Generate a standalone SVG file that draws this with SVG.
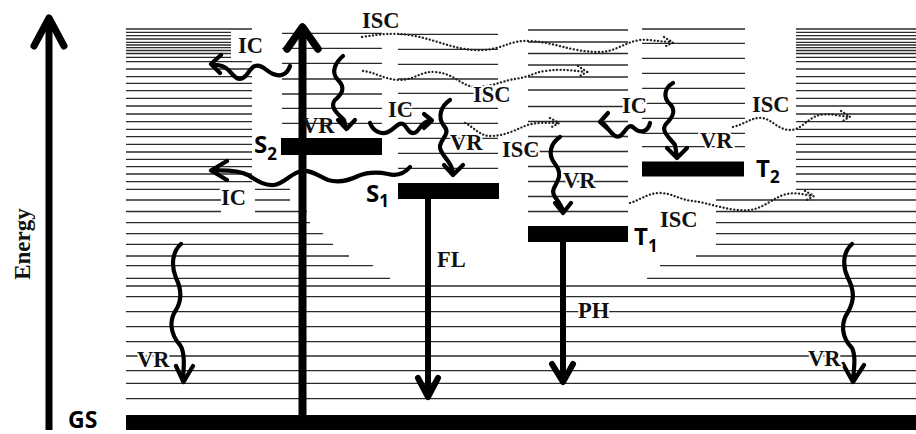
<svg xmlns="http://www.w3.org/2000/svg" width="916" height="434" viewBox="0 0 916 434">
<style>
.lv{stroke:#2b2b2b;stroke-width:1.3;fill:none}
.w{stroke:#000;stroke-width:4.2;fill:none;stroke-linecap:round;stroke-linejoin:round}
.d{stroke:#222;stroke-width:2.3;fill:none;stroke-dasharray:0.1 3.5;stroke-linecap:round}
.big{stroke:#000;fill:none;stroke-linecap:round;stroke-linejoin:round}
.sh{stroke:#000;fill:none;stroke-linecap:butt}
.lb{font-family:"Liberation Serif","Times New Roman",serif;font-weight:bold;font-size:22.5px;fill:#111;paint-order:stroke;stroke:#fff;stroke-width:4px;stroke-linejoin:round}
.nh{stroke:none}
.st{font-family:"Open Sans","Liberation Sans",sans-serif;font-weight:bold;font-size:24px;fill:#000}
.sub{font-size:17px}
</style>
<rect width="916" height="434" fill="#fff"/>
<g id="levels">
<path class="lv" d="M126 29H252M126 32.3H231M126 35.7H231M126 39H231M126 42.3H231M126 45H231M126 47.7H231M126 50.5H231M126 53.5H231M126 57.3H231M126 61.7H252M126 69H252M126 76.7H252M126 83.3H252M126 90.7H252M126 98.3H252M126 106H252M126 114H252M126 121.7H252M126 129.3H252M126 136.7H252M126 144.3H252M126 152H252M126 159.3H252M126 166.7H252M126 174H252M126 181.7H252M126 189.3H221M255 189.3H290M126 200H221M255 200H290M126 211.5H221M255 211.5H307M126 222.7H310M126 233.7H323M126 244.3H333M126 256H349M126 265.7H373M126 278.3H390"/>
<path class="lv" d="M796 29H916M796 32.3H916M796 35.7H916M796 39H916M796 42.3H916M796 45H916M796 47.7H916M796 50.5H916M796 53.5H916M796 57.3H916M796 61.7H916M796 69H916M796 76.7H916M796 83.3H916M796 90.7H916M796 98.3H916M796 106H916M796 114H916M796 121.7H916M796 129.3H916M796 136.7H916M796 144.3H916M796 152H916M796 159.3H916M796 166.7H916M796 174H916M796 181.7H916M796 189.3H916M716 200H916M716 211.5H916M716 222.7H916M716 233.7H916M716 244.3H916M696 256H916M660 265.7H916M647 278.3H916"/>
<path class="lv" d="M282 33.3H382M282 48.3H382M282 63.3H382M282 79H382M282 94H382M282 108.3H382M282 123.3H382"/>
<path class="lv" d="M398 34.3H498M398 49.3H498M398 64.3H498M398 79H498M398 93.3H498M398 108.3H498M398 123.3H498M398 138.3H498M398 153.3H498M398 168.3H498"/>
<path class="lv" d="M528 30H628M528 42H628M528 53.5H628M528 65H628M528 77H628M528 90H628M528 106.5H628M528 121.5H628M528 136.5H628M528 151.5H628M528 166.5H628M528 181.5H628M528 196.5H628M528 211.5H628"/>
<path class="lv" d="M642 29H745M642 43.3H745M642 58.3H745M642 73.3H745M642 88.3H745M642 103.3H745M642 118.3H745M642 133.3H745M642 146.7H745"/>
<path class="lv" d="M126 286H916M126 296.7H916M126 311.7H916M126 326.7H916M126 341.7H916M126 356H916M126 370.7H916M126 383.3H916M126 398.7H916"/>
</g>
<g id="energy-axis">
<path class="sh" stroke-width="7" d="M49 430V20"/>
<path class="big" stroke-width="7" d="M34 46L49 18L64 46"/>
<text x="30" y="244" text-anchor="middle" transform="rotate(-90 30 244)" style="font-family:'Liberation Serif','Times New Roman',serif;font-weight:bold;font-size:23px;fill:#111">Energy</text>
</g>
<g id="GS">
<rect x="126" y="415" width="790" height="15" fill="#000"/>
<text class="st" x="68" y="428" style="font-size:23px">GS</text>
</g>
<g id="S2">
<rect x="281" y="138" width="101" height="17" fill="#000"/>
<text class="st" x="254" y="153">S<tspan class="sub" dy="7">2</tspan></text>
</g>
<g id="S1">
<rect x="398" y="183" width="101" height="16" fill="#000"/>
<text class="st" x="366" y="202">S<tspan class="sub" dy="5">1</tspan></text>
</g>
<g id="T1">
<rect x="528" y="226" width="100" height="16" fill="#000"/>
<text class="st" x="634" y="245">T<tspan class="sub" dy="6.5">1</tspan></text>
</g>
<g id="T2">
<rect x="642" y="161.5" width="102" height="15" fill="#000"/>
<text class="st" x="756" y="177">T<tspan class="sub" dy="5.5">2</tspan></text>
</g>
<g id="connectors">
<path class="sh" stroke-width="8" d="M302.5 430V30"/>
<path class="big" stroke-width="7.5" d="M287 49L302.5 27L318 49"/>
<path class="sh" stroke-width="6" d="M428 199V394"/>
<path class="big" stroke-width="6" d="M418 378L428 397L438 378"/>
<path class="sh" stroke-width="6" d="M563 242V379"/>
<path class="big" stroke-width="6" d="M552 364L563 382L573 364"/>
<path class="w" d="M290 66C287 75 280 77 273 74C266 71 262 64 255 66C249 68 247 79 240 79C233 79 230 68 222 66L213 64M221 55L211 64L220 73"/>
<path class="w" d="M410 167C404 174 396 176 388 174C378 172 368 172 358 176C348 181 338 183 328 180C318 176 312 170 302 171C292 172 284 184 274 185C264 186 256 180 248 175C240 171 230 170 214 170.5M227 161L211 170.5L227 180"/>
<path class="w" d="M343 56C336 62 330 72 338 80C346 88 342 94 335 100C329 107 338 114 344 120L346 128M338 120L346.5 129L355 120"/>
<path class="w" d="M370 123C373 131 381 135 388 132C395 129 398 122 403 124C408 127 408 134 414 133C420 132 420 122 429 121M424 114L432 120.5L424 128"/>
<path class="w" d="M450 100C441 106 437 117 444 126C451 134 441 138 440 146C439 155 452 160 453 173M444 165L453 175L463 165"/>
<path class="w" d="M560 137C551 143 547 154 555 164C563 174 558 180 554 188C550 196 560 200 563 211M555 203L563 213L571 203"/>
<path class="w" d="M650 123C648 132 640 134 634 128C628 122 625 133 620 136C614 139 610 130 604 124M608 113L600 122L609 130"/>
<path class="w" d="M673 83C664 88 663 98 670 104C677 111 672 118 666 124C660 131 670 138 675 145L677 157M667 148L677 158L687 148"/>
<path class="w" d="M181 244C172 252 171 266 176 278C182 290 182 300 176 310C169 320 170 334 180 345C185 352 184 365 183 380M176 366L183.5 382L193 366"/>
<path class="w" d="M852 244C843 252 842 266 848 278C854 290 855 300 848 312C840 324 842 338 852 348C856 356 854 368 853 381M843 364L853 382L864 365"/>
<path class="d" d="M362 37C385 33 400 33 415 36C440 41 460 52 485 50C505 48 510 40 530 41C555 42 570 52 600 52C615 52 625 42 640 40C650 39 660 42 672 42M664 37L673 42.5L664 47"/>
<path class="d" d="M363 71C375 72 385 80 400 80C415 80 420 71 435 72C455 73 462 88 478 87C495 86 505 80 515 79C530 77 535 72 545 71C560 69 570 70 585 72M578 66L587 72L578 77"/>
<path class="d" d="M465 123C475 128 480 136 490 136C505 136 515 130 525 126C535 122 545 123 558 123M550 118L559 123L550 128"/>
<path class="d" d="M733 127C745 124 752 117 762 118C772 119 778 130 790 130C802 130 808 117 820 115C830 113 840 116 849 117M841 111L850 116.5L841 122"/>
<path class="d" d="M630 203C640 200 648 193 660 193C672 193 680 200 693 201C710 203 730 212 750 210C765 208 775 196 787 194C797 192 805 195 813 196M805 191L814 196L805 201"/>
</g>
<g id="labels">
<text class="lb" x="362" y="28">ISC</text>
<text class="lb" x="238" y="53">IC</text>
<text class="lb" x="473" y="102">ISC</text>
<text class="lb" x="388" y="117">IC</text>
<text class="lb nh" x="302" y="133">VR</text>
<text class="lb" x="450" y="150">VR</text>
<text class="lb" x="502" y="157">ISC</text>
<text class="lb" x="563" y="188">VR</text>
<text class="lb" x="622" y="113">IC</text>
<text class="lb" x="700" y="148">VR</text>
<text class="lb" x="752" y="112">ISC</text>
<text class="lb" x="660" y="227">ISC</text>
<text class="lb" x="221" y="205">IC</text>
<text class="lb" x="437" y="267">FL</text>
<text class="lb" x="578" y="318">PH</text>
<text class="lb" x="137" y="367">VR</text>
<text class="lb" x="808" y="366">VR</text>
</g>
</svg>
